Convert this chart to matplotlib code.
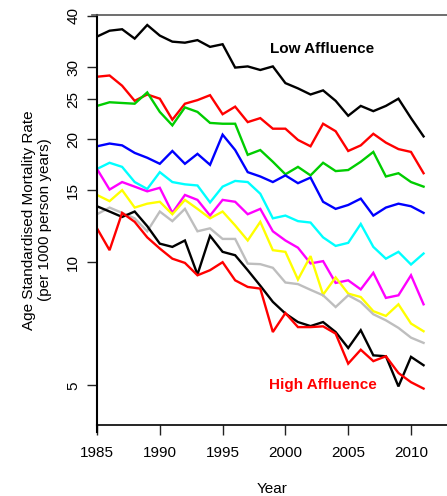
import matplotlib
matplotlib.use("Agg")
import matplotlib.pyplot as plt
from matplotlib.lines import Line2D

plt.rcParams['font.family'] = ['Liberation Sans', 'DejaVu Sans']

years = list(range(1985, 2012))

low_black = [35.6, 36.8, 37.1, 35.2, 38.0, 35.8, 34.6, 34.4, 34.9, 33.6, 34.1, 29.9, 30.1, 29.5,
             30.1, 27.4, 26.6, 25.7, 26.3, 24.8, 22.8, 24.1, 23.4, 24.1, 25.1, 22.5, 20.3]
red_2 = [28.4, 28.6, 27.0, 24.8, 25.7, 25.1, 22.3, 24.4, 24.9, 25.6, 23.0, 24.0, 22.0, 22.5,
         21.2, 21.2, 19.9, 19.2, 21.8, 20.9, 18.7, 19.3, 20.6, 19.6, 18.9, 18.6, 16.5]
green_3 = [24.1, 24.6, 24.5, 24.4, 26.0, 23.3, 21.6, 23.9, 23.3, 21.9, 21.8, 21.8, 18.3, 18.8,
           17.6, 16.4, 17.1, 16.3, 17.5, 16.7, 16.8, 17.6, 18.6, 16.2, 16.5, 15.7, 15.3]
blue_4 = [19.2, 19.5, 19.3, 18.5, 18.0, 17.4, 18.7, 17.4, 18.4, 17.3, 20.5, 18.8, 16.6, 16.2,
          15.7, 16.3, 15.6, 16.1, 14.05, 13.5, 13.8, 14.3, 13.0, 13.6, 13.9, 13.7, 13.2]
cyan_5 = [16.9, 17.5, 17.1, 15.7, 15.1, 16.6, 15.7, 15.5, 15.4, 14.0, 15.3, 15.8, 15.7, 14.7,
          12.8, 13.0, 12.6, 12.5, 11.5, 10.96, 11.15, 12.4, 10.9, 10.2, 10.6, 9.87, 10.5]
magenta_6 = [16.9, 15.05, 15.7, 15.3, 14.9, 15.2, 13.2, 14.6, 14.2, 13.0, 14.2, 14.05, 13.1, 13.5,
             11.9, 11.3, 10.85, 9.93, 10.06, 8.90, 9.03, 8.58, 9.42, 8.18, 8.30, 9.29, 7.89]
yellow_7 = [14.6, 14.1, 15.0, 13.6, 13.9, 14.05, 13.1, 14.2, 13.5, 12.8, 13.3, 12.3, 11.3, 12.55,
            10.7, 10.6, 9.07, 10.35, 8.33, 9.18, 8.38, 8.22, 7.59, 7.39, 7.89, 7.08, 6.78]
gray_8 = [13.1, 13.6, 13.2, 12.8, 11.9, 13.3, 12.6, 13.5, 11.9, 12.1, 11.4, 11.4, 9.92, 9.89,
          9.69, 8.92, 8.84, 8.56, 8.30, 7.77, 8.30, 7.99, 7.46, 7.21, 6.91, 6.54, 6.35]
black_9 = [13.7, 13.3, 12.9, 13.3, 12.25, 11.1, 10.9, 11.3, 9.33, 11.6, 10.6, 10.4, 9.56, 8.76,
           8.0, 7.49, 7.14, 6.98, 7.14, 6.75, 6.17, 6.82, 5.92, 5.89, 4.97, 5.87, 5.60]
high_red = [12.1, 10.7, 13.2, 12.55, 11.5, 10.8, 10.2, 9.96, 9.29, 9.56, 10.0, 9.03, 8.70, 8.62,
            6.75, 7.51, 6.94, 6.94, 6.97, 6.69, 5.65, 6.11, 5.73, 5.89, 5.36, 5.09, 4.91]

series = [low_black, red_2, green_3, blue_4, cyan_5, magenta_6, yellow_7, gray_8, black_9, high_red]
colors = ['#000000', '#FF0000', '#00CD00', '#0000FF', '#00FFFF', '#FF00FF', '#FFFF00',
          '#BEBEBE', '#000000', '#FF0000']

yticks = [5, 10, 15, 20, 25, 30, 40]
xticks = [1985, 1990, 1995, 2000, 2005, 2010]

W, H = 447, 496
fig = plt.figure(figsize=(W / 100, H / 100), dpi=100)
ax = fig.add_axes([97 / W, (H - 425) / H, 350 / W, 410 / H])

for vals, c in zip(series, colors):
    ax.plot(years, vals, color=c, lw=1.7, solid_joinstyle='miter')

ax.set_yscale('log')
ax.set_ylim(4.0, 40.2)
ax.set_xlim(1985, 1985 + 350 / 12.56)

ax.set_yticks(yticks)
ax.set_yticklabels([str(v) for v in yticks], rotation=90, va='center', fontsize=11)
ax.yaxis.set_minor_locator(matplotlib.ticker.NullLocator())
ax.set_xticks(xticks)
ax.set_xticklabels([str(v) for v in xticks], fontsize=11)
ax.tick_params(axis='both', length=7, width=1, color='#222222')
ax.tick_params(axis='y', pad=5)
ax.tick_params(axis='x', pad=8)

ax.spines['right'].set_visible(False)
ax.spines['top'].set_visible(False)
ax.spines['left'].set_linewidth(1.5)
ax.spines['bottom'].set_linewidth(1.2)

# left axis extends slightly below the x-axis line
fig.add_artist(Line2D([97 / W, 97 / W], [(H - 432) / H, (H - 425) / H], color='black', lw=1.5))
# gray frame line at top
fig.add_artist(Line2D([92 / W, 1.0], [(H - 15) / H, (H - 15) / H], color='#555555', lw=1.2))

ax.set_xlabel('Year', fontsize=11, labelpad=16)
ax.set_ylabel('Age Standardised Mortality Rate\n(per 1000 person years)', fontsize=11, labelpad=10)

fig.text(322 / W, 1 - 49 / H, 'Low Affluence', ha='center', va='center',
         fontsize=11, fontweight='bold', color='black')
fig.text(323 / W, 1 - 385 / H, 'High Affluence', ha='center', va='center',
         fontsize=11, fontweight='bold', color='#FF0000')

fig.savefig('out.png', dpi=100)
